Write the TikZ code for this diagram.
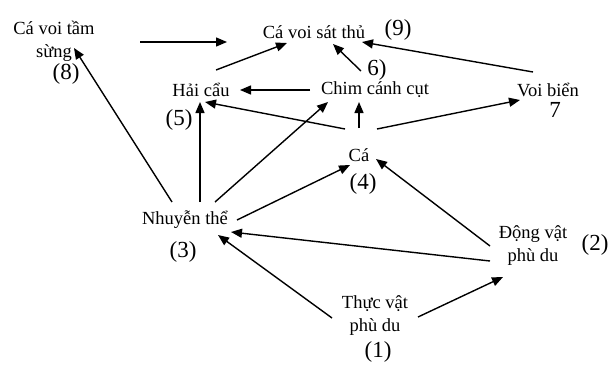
\documentclass[tikz,border=0pt]{standalone}
\usepackage{fontspec}
\setmainfont{Liberation Serif}
\usetikzlibrary{arrows.meta,calc}
\begin{document}
\begin{tikzpicture}[x=1pt,y=-1pt,
  lbl/.style={inner sep=0pt,font=\fontsize{18.5}{23}\selectfont,align=center},
  num/.style={inner sep=0pt,font=\fontsize{23}{26}\selectfont},
  arr/.style={line width=1.4pt,-{Triangle[length=11pt,width=9pt]}}]
\useasboundingbox (0,0) rectangle (609,372);
% nodes
\node[lbl] (cvts) at (54,41) {Cá voi tầm\\sừng};
\node[num] (l8) at (66,74) {(8)};
\node[lbl] (cvst) at (314,32) {Cá voi sát thủ};
\node[num] (l9) at (398,30) {(9)};
\node[num] (l6) at (377,70) {6)};
\node[lbl] (hc) at (201,90) {Hải cẩu};
\node[num] (l5) at (179,120) {(5)};
\node[lbl] (cc) at (375,90) {Chim cánh cụt};
\node[lbl] (vb) at (548,90) {Voi biển};
\node[num] (l7) at (555,110) {7};
\node[lbl] (ca) at (359,155) {Cá};
\node[num] (l4) at (363,184) {(4)};
\node[lbl] (nt) at (185,220) {Nhuyễn thể};
\node[num] (l3) at (183,252) {(3)};
\node[lbl] (dv) at (533,246) {Động vật\\phù du};
\node[num] (l2) at (595,245) {(2)};
\node[lbl] (tv) at (375,316) {Thực vật\\phù du};
\node[num] (l1) at (378,352) {(1)};
\coordinate (fa) at (140,42);
\coordinate (fb) at (227,42);
% connectors
\draw[arr] (fa) -- (fb);
\draw[arr] ($(hc)+(15,-20)$) -- ($(cvst)+(-27,11)$);
\draw[arr] ($(cc)+(-14,-19)$) -- ($(cvst)+(19,12)$);
\draw[arr] ($(vb)+(-15,-18)$) -- ($(cvst)+(48,10)$);
\draw[arr] ($(cc)+(-65,0)$) -- ($(hc)+(39,0)$);
\draw[arr] ($(ca)+(-14,-26)$) -- ($(hc)+(4,12)$);
\draw[arr] ($(ca)+(0,-27)$) -- ($(cc)+(-16,12)$);
\draw[arr] ($(ca)+(18,-26)$) -- ($(vb)+(-28,10)$);
\draw[arr] ($(nt)+(-13,-18)$) -- ($(cvts)+(20,7)$);
\draw[arr] ($(nt)+(15,-18)$) -- ($(hc)+(-1,12)$);
\draw[arr] ($(nt)+(30,-18)$) -- ($(cc)+(-47,12)$);
\draw[arr] ($(nt)+(52,0)$) -- ($(ca)+(-9,10)$);
\draw[arr] ($(dv)+(-43,0)$) -- ($(ca)+(17,4)$);
\draw[arr] ($(dv)+(-43,15)$) -- ($(nt)+(46,12)$);
\draw[arr] ($(tv)+(-43,2)$) -- ($(nt)+(33,15)$);
\draw[arr] ($(tv)+(43,1)$) -- ($(dv)+(-30,31)$);
\end{tikzpicture}
\end{document}
